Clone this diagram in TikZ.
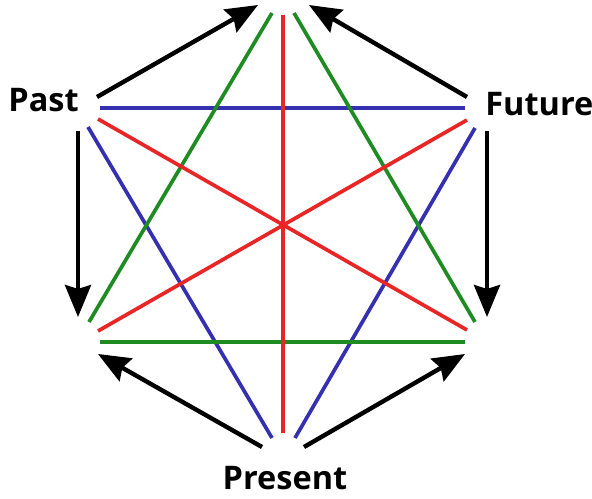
\documentclass[tikz,border=0pt]{standalone}
\usepackage{fontspec}
\setmainfont{Open Sans}
\usetikzlibrary{arrows.meta}

\definecolor{lnred}{RGB}{232,38,38}
\definecolor{lnblue}{RGB}{52,48,176}
\definecolor{lngreen}{RGB}{30,140,34}

\tikzset{
  timelabel/.style={font=\fontsize{18.5}{22}\selectfont\bfseries, inner sep=0pt},
  timearrow/.style={line width=2.5pt, -{Stealth[length=0.64cm,width=0.52cm,inset=0.08cm]}},
  chord/.style={line width=2.1pt}
}

\begin{document}
\begin{tikzpicture}[x=0.02cm,y=-0.02cm]
  \useasboundingbox (0,0) rectangle (592,499);

  % labels
  \node[timelabel, anchor=base west] (past) at (8,112) {Past};
  \node[timelabel, anchor=base west] (future) at (485,116) {Future};
  \node[timelabel, anchor=base] (present) at (285,490) {Present};

  % arrow ends
  \coordinate (a1s) at (97,97);   \coordinate (a1e) at (258,5);
  \coordinate (a2s) at (467,97);  \coordinate (a2e) at (309,5);
  \coordinate (a3s) at (78,131);  \coordinate (a3e) at (78,317);
  \coordinate (a4s) at (487,131); \coordinate (a4e) at (487,317);
  \coordinate (a5s) at (262,447); \coordinate (a5e) at (98,354);
  \coordinate (a6s) at (304,447); \coordinate (a6e) at (465,354);

  \draw[timearrow] (a1s) -- (a1e);
  \draw[timearrow] (a2s) -- (a2e);
  \draw[timearrow] (a3s) -- (a3e);
  \draw[timearrow] (a4s) -- (a4e);
  \draw[timearrow] (a5s) -- (a5e);
  \draw[timearrow] (a6s) -- (a6e);

  % blue chords
  \draw[chord, lnblue] (100,108) -- (465,108);
  \draw[chord, lnblue] (88,127) -- (272,438);
  \draw[chord, lnblue] (475,128) -- (295,438);
  % green chords
  \draw[chord, lngreen] (272,13) -- (89,322);
  \draw[chord, lngreen] (294,13) -- (475,322);
  \draw[chord, lngreen] (100,342) -- (465,342);
  % red chords
  \draw[chord, lnred] (98,119) -- (467,330);
  \draw[chord, lnred] (467,120) -- (98,331);
  \draw[chord, lnred] (283,15) -- (283,433);
\end{tikzpicture}
\end{document}
